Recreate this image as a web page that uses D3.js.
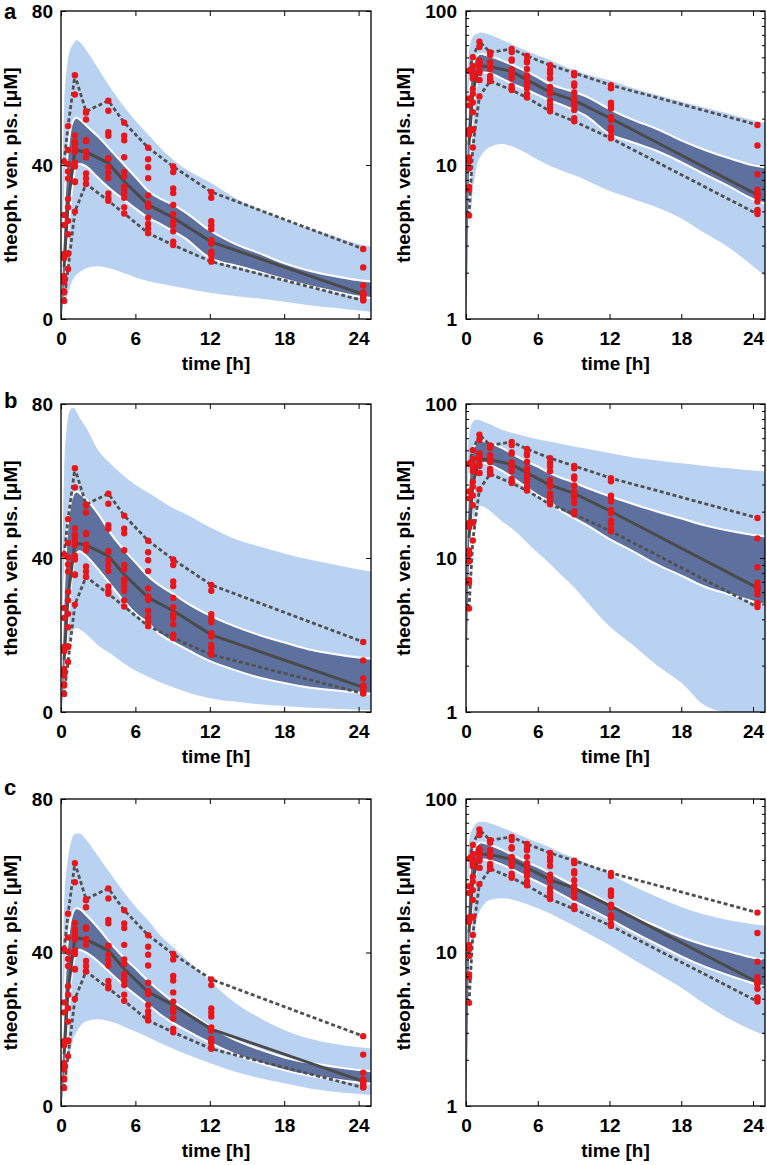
<!DOCTYPE html>
<html><head><meta charset="utf-8">
<script src="https://cdn.jsdelivr.net/npm/d3@7"></script>
<style>
body{margin:0;background:#fff;}
svg{display:block;font-family:"Liberation Sans",Arial,sans-serif;font-weight:bold;}
</style></head><body>
<svg id="chart" width="767" height="1165"></svg>
<script>
// ---------- DATA ----------
// simulation time grid [h]
const T = [0, 0.1, 0.25, 0.5, 0.75, 1, 1.25, 1.5, 2, 3, 4, 5, 6, 7, 8, 9, 10, 12, 14, 16, 18, 20, 22, 24, 25];

// panel a: population band (light) and median band (dark) [µM]
const aLightHi = [0, 30, 55, 66, 70, 71.5, 72.5, 72, 70, 65, 60, 55.5, 51.5, 48, 44.5, 41.5, 39, 35.5, 31.5, 28.5, 25.8, 23.5, 21.5, 19.5, 18.8];
const aLightLo = [0, 0.9, 2.5, 6, 8.5, 10.5, 11.5, 12.2, 13.1, 13.7, 13.1, 12, 10.8, 9.9, 9.2, 8.6, 8, 6.8, 6, 5.3, 4.5, 3.6, 2.9, 2.2, 1.9];
const aDarkHi  = [0, 8, 22, 38, 47, 51, 52, 51.5, 50, 47, 43.5, 40, 36.5, 33, 31, 29.5, 27.5, 22.7, 19.3, 16.8, 14.2, 12.3, 10.9, 9.8, 9.5];
const aDarkLo  = [0, 2, 9, 22, 32, 38, 40.5, 40.5, 40, 37, 34, 31.5, 29, 26.7, 25, 23.2, 21.3, 16.2, 14.2, 12.5, 10.6, 8.8, 7.4, 6.1, 5.7];

// panel b
const bLightHi = [0, 35, 62, 75, 78.5, 79, 78, 76.5, 74, 68, 64.5, 61.5, 59, 57, 55, 53, 51.5, 48, 45, 43, 41.2, 39.6, 38.3, 37, 36.5];
const bLightLo = [0, 1.5, 5, 15, 19.5, 21.3, 21.8, 21.5, 20.3, 17.3, 15.2, 12.8, 10.8, 9.2, 7.7, 6.5, 5.3, 3.6, 2.7, 2.0, 1.55, 1.1, 0.82, 0.6, 0.52];
const bDarkHi  = [0, 9, 25, 43, 52, 56, 57, 56.5, 55, 51, 46, 42, 38.5, 35, 32.5, 30.5, 28.3, 24.8, 22, 19.7, 17.8, 16, 14.8, 13.9, 13.6];
const bDarkLo  = [0, 2.5, 10, 24, 34, 39.5, 41.5, 42, 41, 37.5, 33.5, 29.5, 26, 23.5, 20.5, 18.5, 16.8, 13.5, 11.2, 9.2, 7.8, 6.6, 5.9, 5.3, 5.0];

// panel c
const cLightHi = [0, 28, 52, 63, 68, 70.5, 71, 71, 69.5, 65, 60.5, 56, 52, 48.5, 44.5, 41.5, 38.5, 32.5, 27, 23, 19.8, 17.6, 16.2, 15.3, 15];
const cLightLo = [0, 1, 3.5, 9.5, 14, 17.5, 19.3, 20.6, 22, 22.6, 22, 20.8, 19.4, 18, 16.4, 15, 13.6, 11.2, 9, 7.3, 5.9, 4.6, 3.7, 3.1, 2.9];
const cDarkHi  = [0, 8, 22, 38, 46, 50, 51.3, 51, 49.5, 46, 42, 38.5, 35.5, 32.3, 29.5, 27, 24.8, 20.5, 17, 14.5, 12.4, 11, 10, 9.1, 8.8];
const cDarkLo  = [0, 2, 9, 23, 33, 38.5, 40.5, 41, 40.3, 38, 35, 32, 29.3, 26.8, 24.2, 22, 20.2, 16.8, 13.8, 11.5, 9.6, 8.2, 7.2, 6.4, 6.1];

// observed sampling times [h] and concentrations [µM] (12 subjects)
const obsTime = [0.25, 0.57, 1.12, 2.02, 3.82, 5.10, 7.03, 9.05, 12.12, 24.37];
const obsConc = [
  [15.8, 36.5, 58.3, 53.6, 47.6, 46.4, 41.5, 38.2, 33.0, 18.2],
  [9.5, 43.9, 46.1, 46.2, 38.0, 33.7, 30.0, 25.3, 16.7, 5.0],
  [24.4, 38.3, 45.5, 43.3, 41.6, 34.4, 29.4, 27.2, 20.5, 5.8],
  [10.5, 25.5, 47.7, 46.5, 41.8, 38.2, 32.1, 29.6, 23.3, 6.4],
  [11.2, 31.2, 63.3, 51.8, 48.5, 42.0, 39.4, 32.7, 24.3, 8.7],
  [7.2, 17.1, 35.7, 35.1, 30.7, 27.4, 22.3, 19.2, 15.4, 5.1],
  [4.7, 13.0, 27.9, 36.5, 39.4, 37.0, 29.1, 24.4, 19.6, 6.4],
  [16.9, 16.9, 40.6, 42.0, 36.6, 32.6, 26.3, 25.4, 16.7, 6.9],
  [40.9, 50.1, 39.6, 35.1, 31.4, 31.5, 23.5, 22.8, 17.5, 6.2],
  [16.0, 29.0, 35.6, 43.5, 56.7, 51.0, 44.5, 39.6, 31.5, 13.4],
  [27.0, 40.2, 44.4, 37.8, 32.6, 29.0, 24.7, 20.1, 14.9, 4.8],
  [6.9, 22.0, 43.4, 53.9, 54.1, 47.6, 36.6, 33.9, 25.4, 6.5]
];

// axis ticks and labels
const panelLetters = ["a", "b", "c"];
const xTicks = [0, 6, 12, 18, 24];
const linTicks = [0, 40, 80];
const logTicks = [1, 10, 100];
const logMinor = [2, 3, 4, 5, 6, 7, 8, 9, 20, 30, 40, 50, 60, 70, 80, 90];
const xTitle = "time [h]";
const yTitle = "theoph. ven. pls. [μM]";

// ---------- DRAW ----------
const LIGHT = "#bad2f2", DARK = "#5e719e", MED = "#4a4a4a", DASH = "#505050", RED = "#e8161b";
const bands = [
  {lightHi: aLightHi, lightLo: aLightLo, darkHi: aDarkHi, darkLo: aDarkLo},
  {lightHi: bLightHi, lightLo: bLightLo, darkHi: bDarkHi, darkLo: bDarkLo},
  {lightHi: cLightHi, lightLo: cLightLo, darkHi: cDarkHi, darkLo: cDarkLo}
];
const cols = [
  {x0: 61, x1: 371, log: false, ylabX: 17},
  {x0: 466, x1: 765, log: true, ylabX: 410}
];
const rows = [
  {y0: 11, y1: 319, letterY: 19},
  {y0: 404, y1: 712, letterY: 408},
  {y0: 799, y1: 1106, letterY: 795}
];

// observed summaries per time column
const colVals = obsTime.map((t, j) => obsConc.map(s => s[j]));
const obsMed = colVals.map(v => d3.median(v));
const obsMax = colVals.map(v => d3.max(v));
const obsMin = colVals.map(v => d3.min(v));

const svg = d3.select("#chart");
const defs = svg.append("defs");
const fs = 19;

bands.forEach((bd, ri) => {
  const r = rows[ri];
  svg.append("text").attr("x", 4).attr("y", r.letterY).attr("font-size", 22).text(panelLetters[ri]);
  cols.forEach((c, ci) => {
    const x = d3.scaleLinear().domain([0, 25]).range([c.x0, c.x1]);
    const y = c.log
      ? d3.scaleLog().domain([1, 100]).range([r.y1, r.y0]).clamp(true)
      : d3.scaleLinear().domain([0, 80]).range([r.y1, r.y0]);
    const clipId = `clip-${ri}-${ci}`;
    defs.append("clipPath").attr("id", clipId).append("rect")
      .attr("x", c.x0).attr("y", r.y0).attr("width", c.x1 - c.x0).attr("height", r.y1 - r.y0);
    const g = svg.append("g");
    const plot = g.append("g").attr("clip-path", `url(#${clipId})`);

    const area = (lo, hi) => d3.area()
      .x((d, i) => x(T[i])).y0((d, i) => y(lo[i])).y1((d, i) => y(hi[i]))
      .curve(d3.curveMonotoneX)(T);

    plot.append("path").attr("d", area(bd.lightLo, bd.lightHi)).attr("fill", LIGHT);
    plot.append("path").attr("d", area(bd.darkLo, bd.darkHi)).attr("fill", "#fff")
      .attr("stroke", "#fff").attr("stroke-width", 4).attr("stroke-linejoin", "round");
    plot.append("path").attr("d", area(bd.darkLo, bd.darkHi)).attr("fill", DARK);

    const line = vals => d3.line().x((d, i) => x(obsTime[i])).y((d, i) => y(vals[i]))(obsTime);
    plot.append("path").attr("d", line(obsMed)).attr("fill", "none").attr("stroke", MED).attr("stroke-width", 3);
    [obsMax, obsMin].forEach(v => {
      plot.append("path").attr("d", line(v)).attr("fill", "none").attr("stroke", DASH)
        .attr("stroke-width", 2.8).attr("stroke-dasharray", "4,2.6");
    });

    const pts = [];
    obsConc.forEach(s => s.forEach((v, j) => pts.push([obsTime[j], v])));
    plot.selectAll("circle.obs").data(pts).join("circle").attr("class", "obs")
      .attr("cx", d => x(d[0])).attr("cy", d => y(d[1])).attr("r", 3.2).attr("fill", RED);

    // axes
    g.append("g").attr("transform", `translate(${c.x0},0)`)
      .call(d3.axisLeft(y).tickValues(c.log ? logTicks : linTicks)
        .tickFormat(d3.format("d")).tickSize(-5).tickPadding(c.log ? 9 : 8).tickSizeOuter(0));
    g.append("g").attr("transform", `translate(${c.x1},0)`)
      .call(d3.axisRight(y).tickValues(c.log ? logTicks : linTicks).tickFormat("").tickSize(-5).tickSizeOuter(0));
    if (c.log) {
      g.append("g").attr("transform", `translate(${c.x0},0)`)
        .call(d3.axisLeft(y).tickValues(logMinor).tickFormat("").tickSize(-3).tickSizeOuter(0));
      g.append("g").attr("transform", `translate(${c.x1},0)`)
        .call(d3.axisRight(y).tickValues(logMinor).tickFormat("").tickSize(-3).tickSizeOuter(0));
    }
    g.append("g").attr("transform", `translate(0,${r.y1})`)
      .call(d3.axisBottom(x).tickValues(xTicks).tickFormat(d3.format("d")).tickSize(-5).tickPadding(13).tickSizeOuter(0));
    g.append("g").attr("transform", `translate(0,${r.y0})`)
      .call(d3.axisTop(x).tickValues(xTicks).tickFormat("").tickSize(-5).tickSizeOuter(0));
    g.selectAll(".domain").remove();
    g.selectAll(".tick line").attr("stroke", "#000").attr("stroke-width", 1);
    g.selectAll(".tick text").attr("font-size", fs).attr("font-family", "Liberation Sans, Arial, sans-serif")
      .attr("font-weight", "bold").attr("fill", "#000");

    g.append("rect").attr("x", c.x0).attr("y", r.y0).attr("width", c.x1 - c.x0).attr("height", r.y1 - r.y0)
      .attr("fill", "none").attr("stroke", "#000").attr("stroke-width", 1.3);

    g.append("text").attr("x", (c.x0 + c.x1) / 2).attr("y", r.y1 + 51).attr("text-anchor", "middle")
      .attr("font-size", fs).text(xTitle);
    g.append("text").attr("transform", `translate(${c.ylabX},${(r.y0 + r.y1) / 2}) rotate(-90)`)
      .attr("text-anchor", "middle").attr("font-size", fs).text(yTitle);
  });
});
</script>
</body></html>
